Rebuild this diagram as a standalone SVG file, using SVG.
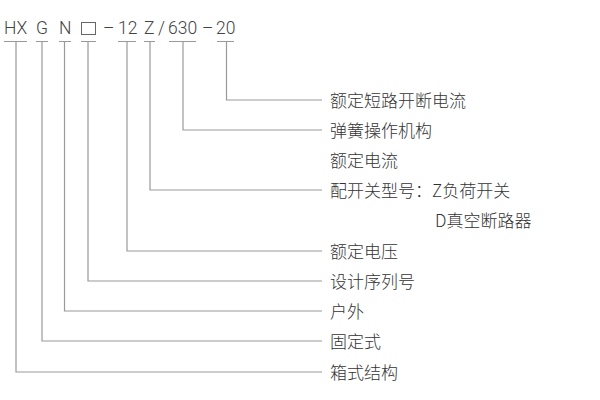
<svg xmlns="http://www.w3.org/2000/svg" width="600" height="400" viewBox="0 0 600 400">
<style>
.code{font-family:"Roboto","Liberation Sans","Noto Sans",sans-serif;font-weight:300;font-size:17.5px;fill:#444;}
.lbl{font-family:"Noto Sans CJK SC","Noto Sans",sans-serif;font-weight:300;font-size:17px;fill:#333;}
.ln{stroke:#9a9a9a;stroke-width:1.2;fill:none;}
</style>
<rect width="600" height="400" fill="#fff"/>
<g id="code">
<g id="seg-HX"><text class="code" x="4" y="34">HX</text></g>
<g id="seg-G"><text class="code" x="36" y="34">G</text></g>
<g id="seg-N"><text class="code" x="59" y="34">N</text></g>
<g id="seg-box"><rect x="81.5" y="22.5" width="14" height="12" fill="none" stroke="#666" stroke-width="1"/></g>
<g id="seg-dash1"><text class="code" x="103" y="34">–</text></g>
<g id="seg-12"><text class="code" x="118" y="34">12</text></g>
<g id="seg-Z"><text class="code" x="144" y="34">Z</text></g>
<g id="seg-slash"><text class="code" x="158" y="34">/</text></g>
<g id="seg-630"><text class="code" x="168" y="34">630</text></g>
<g id="seg-dash2"><text class="code" x="202" y="34">–</text></g>
<g id="seg-20"><text class="code" x="216" y="34">20</text></g>
</g>
<g id="connectors">
<path class="ln" d="M4,41.5H27 M36,41.5H48 M59,41.5H71 M81,41.5H96 M118,41.5H136 M144,41.5H155 M169,41.5H196 M217,41.5H234"/>
<path class="ln" d="M226.5,41.5V100H322"/>
<path class="ln" d="M183,41.5V130H322"/>
<path class="ln" d="M150,41.5V190H322"/>
<path class="ln" d="M127,41.5V251H322"/>
<path class="ln" d="M88,41.5V281H322"/>
<path class="ln" d="M64.5,41.5V311H322"/>
<path class="ln" d="M42,41.5V341H322"/>
<path class="ln" d="M16,41.5V372H322"/>
</g>
<g id="label-20"><text class="lbl" x="330" y="107">额定短路开断电流</text></g>
<g id="label-630-op"><text class="lbl" x="330" y="137">弹簧操作机构</text></g>
<g id="label-630-cur"><text class="lbl" x="330" y="167">额定电流</text></g>
<g id="label-Z"><text class="lbl" x="330" y="197">配开关型号：Z负荷开关</text><text class="lbl" x="435" y="227">D真空断路器</text></g>
<g id="label-12"><text class="lbl" x="330" y="258">额定电压</text></g>
<g id="label-box"><text class="lbl" x="330" y="288">设计序列号</text></g>
<g id="label-N"><text class="lbl" x="330" y="318">户外</text></g>
<g id="label-G"><text class="lbl" x="330" y="348">固定式</text></g>
<g id="label-HX"><text class="lbl" x="330" y="379">箱式结构</text></g>
</svg>
